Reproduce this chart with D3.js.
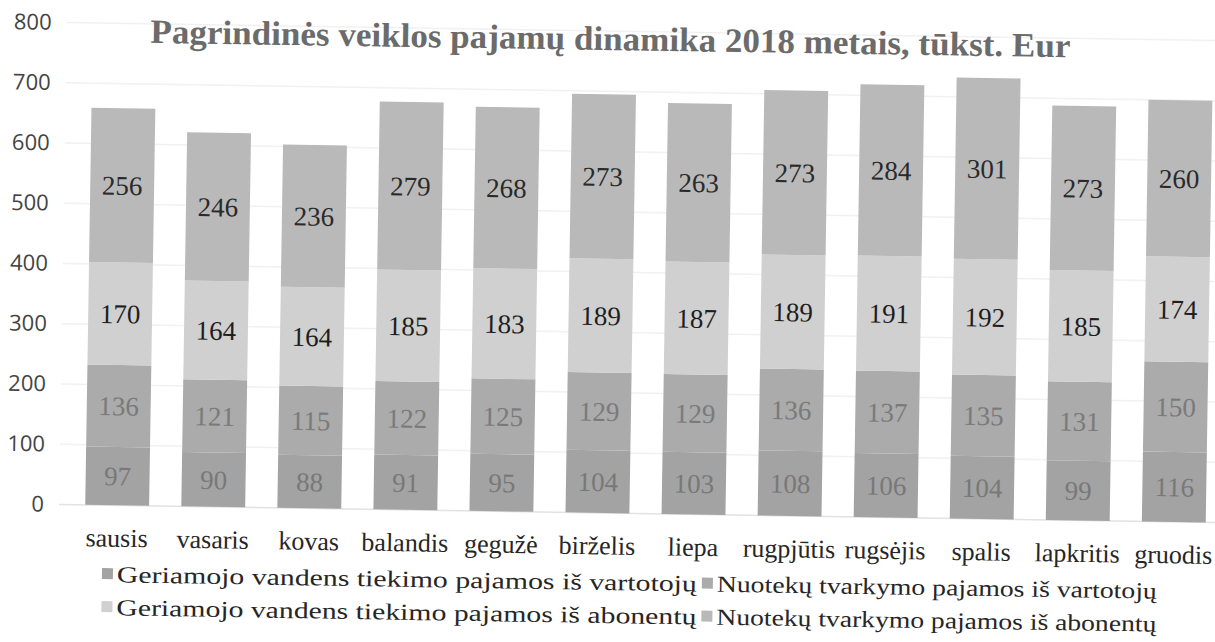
<!DOCTYPE html>
<html>
<head>
<meta charset="utf-8">
<script src="https://cdn.jsdelivr.net/npm/d3@7"></script>
<style>
  body { margin: 0; background: #fff; }
  svg { display: block; }
</style>
</head>
<body>
<svg></svg>
<script>
const w = 1215;
const h = 642;
const svg = d3.select("svg").attr("width", w).attr("height", h);
// the scanned original sits slightly turned on the page
const chart = svg.append("g").attr("transform", "rotate(0.9, 607, 321)");

const months = ["sausis","vasaris","kovas","balandis","gegužė","birželis","liepa","rugpjūtis","rugsėjis","spalis","lapkritis","gruodis"];
const seriesNames = [
  "Geriamojo vandens tiekimo pajamos iš vartotojų",
  "Nuotekų tvarkymo pajamos iš vartotojų",
  "Geriamojo vandens tiekimo pajamos iš abonentų",
  "Nuotekų tvarkymo pajamos iš abonentų"
];
const waterUsers = [97,90,88,91,95,104,103,108,106,104,99,116];
const sewageUsers = [136,121,115,122,125,129,129,136,137,135,131,150];
const waterSubs = [170,164,164,185,183,189,187,189,191,192,185,174];
const sewageSubs = [256,246,236,279,268,273,263,273,284,301,273,260];
const yTicks = [0,100,200,300,400,500,600,700,800];

const colors = ["#a3a3a3","#ababab","#d0d0d0","#b9b9b9"];
const labelCols = ["#6a6a6a","#6a6a6a","#1e1e1e","#2a2a2a"];

const rows = months.map((m,i)=>({month:m, s0:waterUsers[i], s1:sewageUsers[i], s2:waterSubs[i], s3:sewageSubs[i]}));
const keys = ["s0","s1","s2","s3"];
const stacked = d3.stack().keys(keys)(rows);

const xScale = d3.scaleBand().domain(months).range([56, 1241]).paddingInner(0.335).paddingOuter(0.335);
const yScale = d3.scaleLinear().domain([0,800]).range([513, 31]);

// gridlines
chart.append("g").selectAll("line").data(yTicks).enter().append("line")
  .attr("x1", 62).attr("x2", w + 20)
  .attr("y1", d=>yScale(d)).attr("y2", d=>yScale(d))
  .attr("stroke", d=>d===0 ? "#e2e2e2" : "#f1f1f1").attr("stroke-width", 1.5);

// y axis labels
const yAxis = d3.axisLeft(yScale).tickValues(yTicks).tickSize(0).tickPadding(0);
const yg = chart.append("g").attr("transform","translate(47,0)").call(yAxis);
yg.select(".domain").remove();
yg.selectAll("text").attr("font-family","'Open Sans', sans-serif").attr("font-size",22).attr("fill","#444");

// bars
const layers = chart.append("g").selectAll("g").data(stacked).enter().append("g")
  .attr("fill",(d,i)=>colors[i]);
layers.selectAll("rect").data(d=>d).enter().append("rect")
  .attr("x", d=>xScale(d.data.month))
  .attr("width", xScale.bandwidth())
  .attr("y", d=>yScale(d[1]))
  .attr("height", d=>yScale(d[0])-yScale(d[1]));

// value labels
stacked.forEach((layer,i)=>{
  chart.append("g").selectAll("text").data(layer).enter().append("text")
    .attr("x", d=>xScale(d.data.month)+xScale.bandwidth()/2)
    .attr("y", d=>yScale((d[0]+d[1])/2))
    .attr("dy","0.35em")
    .attr("text-anchor","middle")
    .attr("font-family","'Liberation Serif', serif")
    .attr("font-size",27)
    .attr("fill",labelCols[i])
    .attr("opacity", i<2 ? 0.75 : 1)
    .text(d=>d[1]-d[0]);
});

// x axis labels
const xAxis = d3.axisBottom(xScale).tickSize(0).tickPadding(0);
const xg = chart.append("g").attr("transform","translate(0,536)").call(xAxis);
xg.select(".domain").remove();
xg.selectAll("text").attr("font-family","'Liberation Serif', serif").attr("font-size",26).attr("fill","#262626").attr("dy","0.71em");

// title
chart.append("text")
  .attr("x", 146).attr("y", 50)
  .attr("font-family","'Liberation Serif', serif").attr("font-weight","bold")
  .attr("font-size",34).attr("fill","#6b6b6b")
  .attr("textLength", 920).attr("lengthAdjust","spacingAndGlyphs")
  .text("Pagrindinės veiklos pajamų dinamika 2018 metais, tūkst. Eur");

// legend
const legendPos = [
  {x:106, y:590, len:580},
  {x:706, y:590, len:440},
  {x:106, y:623, len:580},
  {x:706, y:623, len:440}
];
const lg = chart.append("g").selectAll("g").data(seriesNames).enter().append("g")
  .attr("transform",(d,i)=>`translate(${legendPos[i].x},${legendPos[i].y})`);
lg.append("rect").attr("x",0).attr("y",-14).attr("width",11).attr("height",11).attr("fill",(d,i)=>colors[i]);
lg.append("text").attr("x",15).attr("y",0)
  .attr("font-family","'Liberation Serif', serif").attr("font-size",23).attr("fill","#262626")
  .attr("textLength",(d,i)=>legendPos[i].len).attr("lengthAdjust","spacingAndGlyphs")
  .text(d=>d);
</script>
</body>
</html>
